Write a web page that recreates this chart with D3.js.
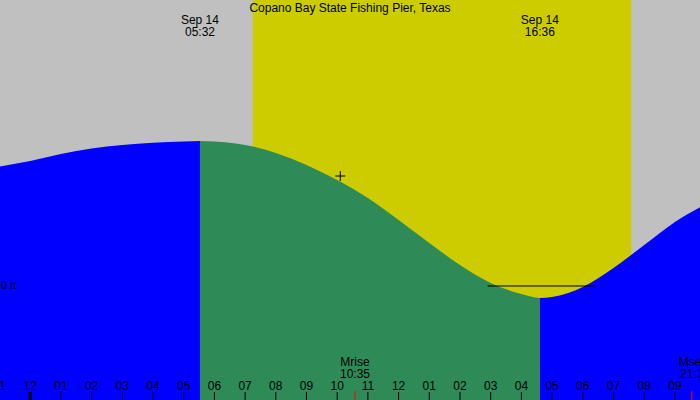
<!DOCTYPE html>
<html><head><meta charset="utf-8">
<script src="https://cdn.jsdelivr.net/npm/d3@7"></script>
<style>body{margin:0}svg{display:block;font-family:"Liberation Sans",Arial,sans-serif}</style>
</head><body><div id="chart"></div>
<script>
// tide heights (ft), hours from midnight Sep 14
const tideHours = [-1.1, 0, 1, 2, 3, 4, 5, 5.53, 6, 7, 8, 9, 10, 11, 12, 13, 14, 15, 16, 16.6, 17, 18, 19, 20, 21, 22.2];
const tideFeet = [1.19, 1.25, 1.32, 1.375, 1.41, 1.433, 1.446, 1.45, 1.445, 1.41, 1.33, 1.21, 1.06, 0.88, 0.66, 0.43, 0.21, 0.03, -0.08, -0.12, -0.11, -0.01, 0.18, 0.41, 0.64, 0.85];
const hourLabels = ["11","12","01","02","03","04","05","06","07","08","09","10","11","12","01","02","03","04","05","06","07","08","09"];
const highTide = 5.53, lowTide = 16.6;
const sunrise = 7.25, sunset = 19.58;
const moonrise = 10.58, moonset = 21.55;

const W = 700, H = 400;
const x = d3.scaleLinear().domain([0, 1]).range([30.2, 60.9]);
const y = d3.scaleLinear().domain([0, 1]).range([286, 186]);
const svg = d3.select("#chart").append("svg").attr("width", W).attr("height", H);

svg.append("rect").attr("width", W).attr("height", H).attr("fill", "#c0c0c0");
svg.append("rect").attr("x", x(sunrise)).attr("width", x(sunset) - x(sunrise))
  .attr("height", H).attr("fill", "#cccc00");

const pts = tideHours.map((h, i) => [h, tideFeet[i]]);
const area = d3.area().x(d => x(d[0])).y0(H).y1(d => y(d[1])).curve(d3.curveMonotoneX);
svg.append("clipPath").attr("id", "c1").append("rect").attr("width", x(highTide)).attr("height", H);
svg.append("clipPath").attr("id", "c2").append("rect").attr("x", x(highTide)).attr("width", x(lowTide) - x(highTide)).attr("height", H);
svg.append("clipPath").attr("id", "c3").append("rect").attr("x", x(lowTide)).attr("width", W).attr("height", H);
svg.append("path").datum(pts).attr("d", area).attr("fill", "#0000ff").attr("clip-path", "url(#c1)");
svg.append("path").datum(pts).attr("d", area).attr("fill", "#2e8b57").attr("clip-path", "url(#c2)");
svg.append("path").datum(pts).attr("d", area).attr("fill", "#0000ff").attr("clip-path", "url(#c3)");

svg.append("line").attr("x1", x(14.9)).attr("x2", x(18.4)).attr("y1", y(0)).attr("y2", y(0))
  .attr("stroke", "#000");
svg.append("text").attr("x", 1).attr("y", y(0) + 3).attr("font-size", 11).text("0 ft");

// crosshair
const cx = x(10.1), cy = 176;
svg.append("path").attr("d", `M${cx - 5},${cy}H${cx + 5}M${cx},${cy - 5}V${cy + 5}`).attr("stroke", "#000");

const txt = (tx, ty, s, anchor) => svg.append("text").attr("x", tx).attr("y", ty)
  .attr("text-anchor", anchor || "middle").attr("font-size", 12).attr("fill", "#000").text(s);
txt(350, 12, "Copano Bay State Fishing Pier, Texas");
txt(x(highTide), 24, "Sep 14"); txt(x(highTide), 36, "05:32");
txt(x(lowTide), 24, "Sep 14"); txt(x(lowTide), 36, "16:36");
txt(x(moonrise), 366, "Mrise"); txt(x(moonrise), 378, "10:35");
txt(x(moonset), 366, "Mset"); txt(x(moonset), 378, "21:3");

hourLabels.forEach((l, i) => {
  const h = i - 1;
  txt(x(h), 390, l);
  svg.append("line").attr("x1", x(h)).attr("x2", x(h)).attr("y1", 392).attr("y2", H)
    .attr("stroke", "#000").attr("stroke-width", h === 0 ? 3 : 1);
});
[moonrise, moonset].forEach(m => svg.append("line").attr("x1", x(m)).attr("x2", x(m))
  .attr("y1", 391).attr("y2", H).attr("stroke", "red"));
</script></body></html>
